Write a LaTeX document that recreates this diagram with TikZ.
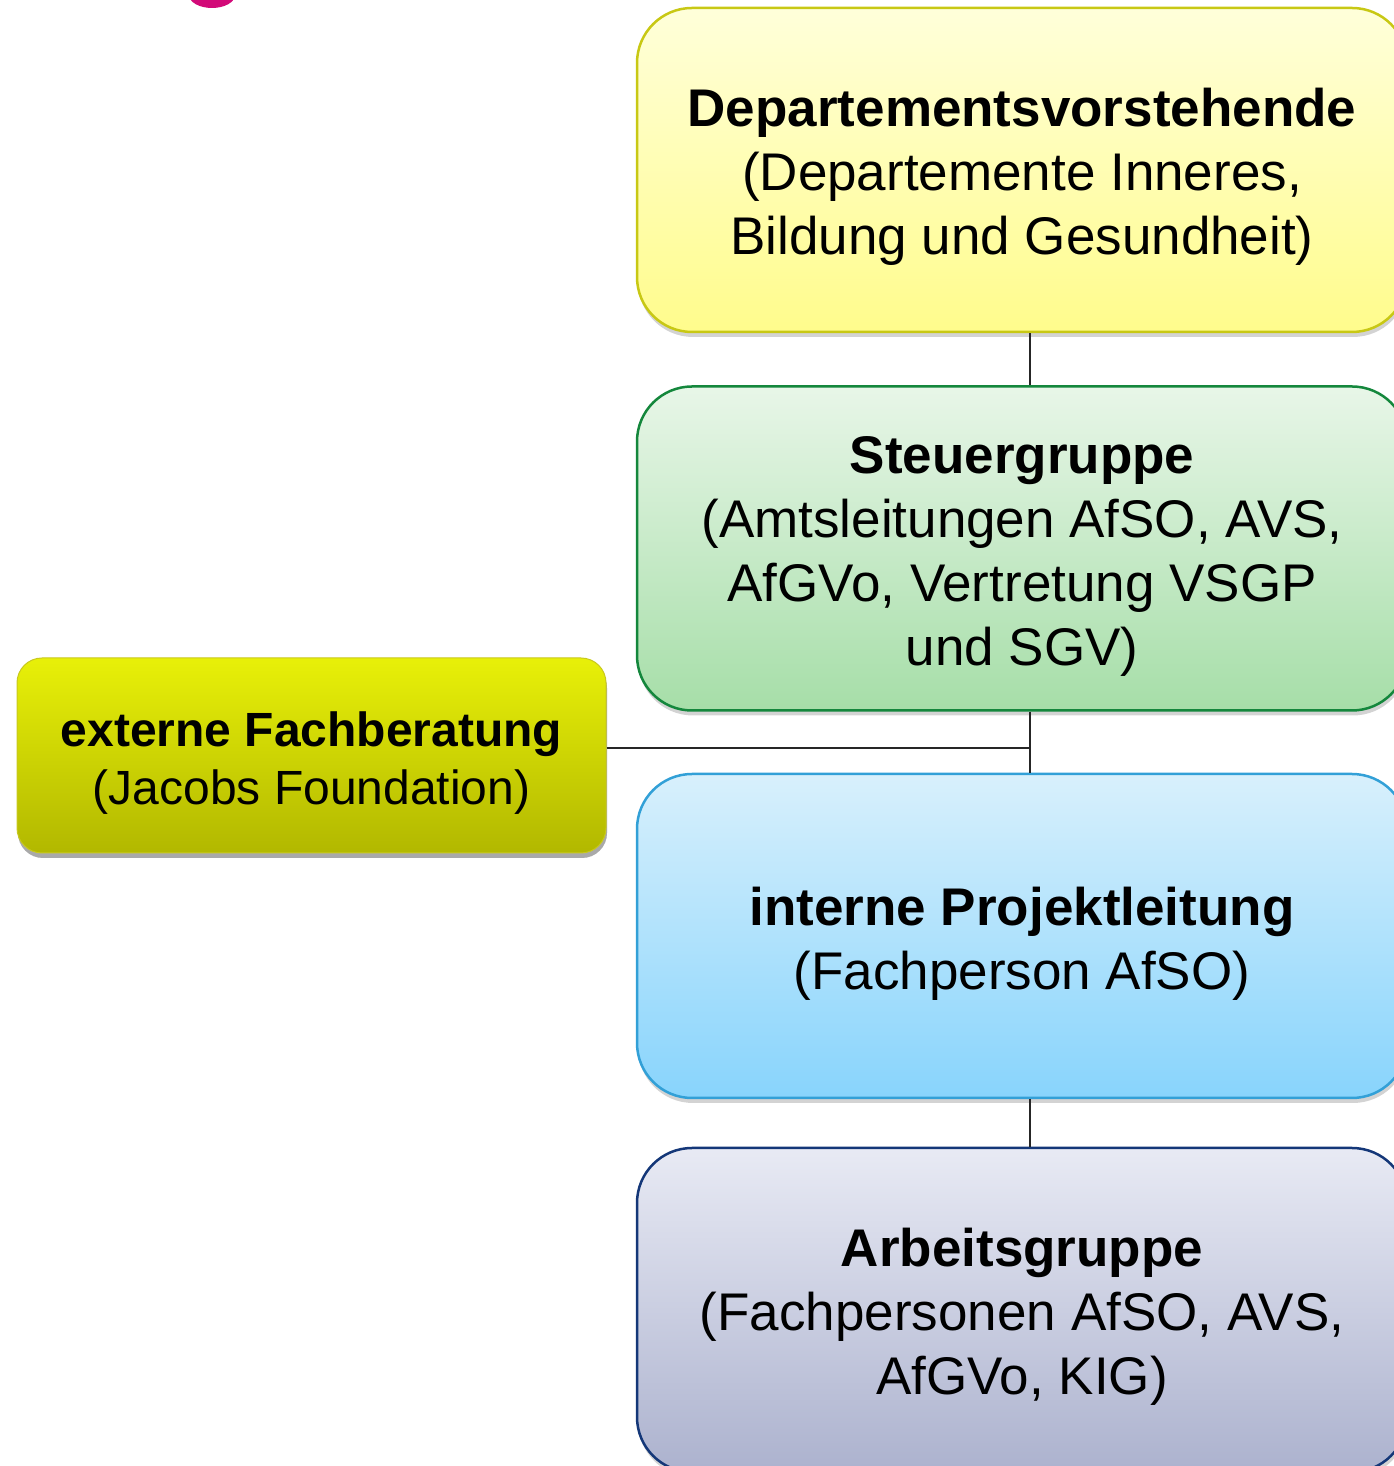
\documentclass[tikz,border=0pt]{standalone}
\usepackage{fontspec}
\setmainfont{Liberation Sans}
\usetikzlibrary{shadows}
\tikzset{
  orgbox/.style={draw,line width=2.5bp,rounded corners=55bp,
    minimum width=770bp,minimum height=324bp,inner sep=0pt,
    drop shadow={shadow xshift=1bp,shadow yshift=-5bp,opacity=0.35}},
  orgtext/.style={align=center,inner sep=0pt,font=\fontsize{53bp}{64bp}\selectfont},
  link/.style={line width=2bp,black!85},
}
\begin{document}
\begin{tikzpicture}[line join=round]
%%
\clip (0bp,0bp) rectangle (1394bp,1466bp);
\useasboundingbox (0bp,0bp) rectangle (1394bp,1466bp);
\fill[fill={rgb,255:red,210;green,10;blue,120}] (212bp,1471bp) ellipse (23bp and 13bp);
%
\node (dept) at (1022bp,1296bp) [orgbox,draw={rgb,255:red,200;green,200;blue,20},
  top color={rgb,255:red,255;green,255;blue,218},bottom color={rgb,255:red,255;green,252;blue,140}] {};
\node (dept-t) at ([yshift=-7bp]dept.center) [orgtext]
  {\textbf{Departementsvorstehende}\\(Departemente Inneres,\\Bildung und Gesundheit)};
\node (steuer) at (1022bp,917.5bp) [orgbox,draw={rgb,255:red,20;green,135;blue,60},
  top color={rgb,255:red,232;green,246;blue,232},bottom color={rgb,255:red,166;green,222;blue,168}] {};
\node (steuer-t) at ([yshift=-8bp]steuer.center) [orgtext]
  {\textbf{Steuergruppe}\\(Amtsleitungen AfSO, AVS,\\AfGVo, Vertretung VSGP\\und SGV)};
\node (intern) at (1022bp,530bp) [orgbox,draw={rgb,255:red,50;green,160;blue,215},
  top color={rgb,255:red,216;green,240;blue,252},bottom color={rgb,255:red,136;green,212;blue,252}] {};
\node (intern-t) at ([yshift=-8bp]intern.center) [orgtext]
  {\textbf{interne Projektleitung}\\(Fachperson AfSO)};
\node (arbeit) at (1022bp,156bp) [orgbox,draw={rgb,255:red,20;green,55;blue,120},
  top color={rgb,255:red,232;green,234;blue,244},bottom color={rgb,255:red,172;green,178;blue,206}] {};
\node (arbeit-t) at ([yshift=-7bp]arbeit.center) [orgtext]
  {\textbf{Arbeitsgruppe}\\(Fachpersonen AfSO, AVS,\\AfGVo, KIG)};
\node (extern) at (311.5bp,710.5bp) [orgbox,rounded corners=25bp,minimum width=589bp,minimum height=195bp,
  draw={rgb,255:red,200;green,200;blue,30},line width=1bp,
  top color={rgb,255:red,232;green,240;blue,8},bottom color={rgb,255:red,178;green,184;blue,0},
  drop shadow={shadow xshift=1bp,shadow yshift=-5bp,opacity=0.5}] {};
\node (extern-t) at ([yshift=-8bp]extern.center) [orgtext,font=\fontsize{48bp}{58bp}\selectfont]
  {\textbf{externe Fachberatung}\\(Jacobs Foundation)};
%
\coordinate (junc) at (1030bp,718bp);
\draw [link] ([xshift=8bp]dept.south) -- ([xshift=8bp]steuer.north);
\draw [link] ([xshift=8bp]steuer.south) -- ([xshift=8bp]intern.north);
\draw [link] ([xshift=8bp]intern.south) -- ([xshift=8bp]arbeit.north);
\draw [link] ([yshift=7.5bp]extern.east) -- (junc);
%
\end{tikzpicture}
\end{document}
